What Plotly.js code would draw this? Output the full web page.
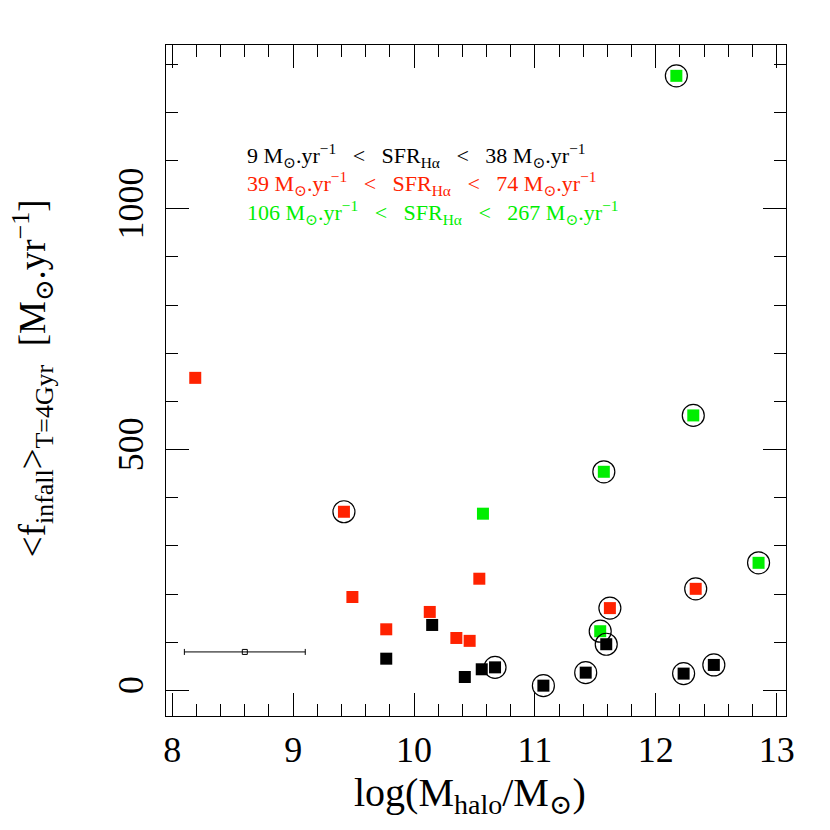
<!DOCTYPE html>
<html>
<head>
<meta charset="utf-8">
<script src="https://cdn.plot.ly/plotly-3.0.1.min.js"></script>
<style>
  body { margin: 0; background: #fff; }
  #chart { width: 830px; height: 830px; }
</style>
</head>
<body>
<div id="chart"></div>
<script>
// halo mass (log) vs mean infall rate, three SFR bins
const blackX = [9.77, 10.15, 10.42, 10.56, 10.67, 11.07, 11.42, 11.59, 12.23, 12.48];
const blackY = [66, 136, 28, 44, 48, 10, 37, 96, 35, 53];
const blackRing = [0, 0, 0, 0, 1, 1, 1, 1, 1, 1];

const redX = [8.19, 9.42, 9.49, 9.77, 10.13, 10.35, 10.46, 10.54, 11.62, 12.33];
const redY = [649, 371, 194, 127, 163, 109, 103, 232, 171, 211];
const redRing = [0, 1, 0, 0, 0, 0, 0, 0, 1, 1];

const greenX = [10.57, 11.54, 11.57, 12.17, 12.31, 12.85];
const greenY = [367, 123, 454, 1276, 571, 265];
const greenRing = [0, 1, 1, 1, 1, 1];

// typical error bar
const errX = [8.6];
const errY = [80];
const errHalf = [0.5];

const xTicks = [8, 9, 10, 11, 12, 13];
const yTicks = [0, 500, 1000];

const RED = '#ff2200';
const GREEN = '#00ee00';
const FONT = 'Liberation Serif, DejaVu Serif, serif';
const SP = '\u00a0';

function squares(x, y, color, name) {
    return {
        x: x, y: y, type: 'scatter', mode: 'markers', name: name,
        marker: { symbol: 'square', size: 12, color: color, line: { width: 0 } }
    };
}

function sfrLabel(lo, hi) {
    const gap = SP + SP + SP;
    return lo + SP + 'M<sub>⊙</sub>.yr<sup>−1</sup>' + gap + '&lt;' + gap + 'SFR<sub>Hα</sub>' +
        gap + '&lt;' + gap + hi + SP + 'M<sub>⊙</sub>.yr<sup>−1</sup>';
}

// gather ringed points from all three sets
const ringX = [], ringY = [];
[[blackX, blackY, blackRing], [redX, redY, redRing], [greenX, greenY, greenRing]].forEach(s => {
    s[2].forEach((r, i) => { if (r) { ringX.push(s[0][i]); ringY.push(s[1][i]); } });
});

const traces = [
    squares(blackX, blackY, 'black', 'low'),
    squares(redX, redY, RED, 'mid'),
    squares(greenX, greenY, GREEN, 'high'),
    {
        x: ringX, y: ringY, type: 'scatter', mode: 'markers', name: 'ring',
        marker: { symbol: 'circle-open', size: 22, color: 'black', line: { width: 1.2, color: 'black' } }
    },
    {
        x: errX, y: errY, type: 'scatter', mode: 'markers', name: 'err',
        marker: { symbol: 'square-open', size: 5, color: 'black', line: { width: 1 } },
        error_x: { type: 'data', array: errHalf, color: 'black', thickness: 1, width: 3 }
    }
];

const axisBase = {
    showgrid: false, zeroline: false, showline: true, linecolor: 'black', linewidth: 1,
    mirror: 'allticks', ticks: 'inside', tickcolor: 'black', tickwidth: 1, ticklen: 23,
    tickfont: { family: FONT, size: 36, color: 'black' }
};

const layout = {
    width: 830, height: 830,
    margin: { l: 166, r: 44, t: 45, b: 114 },
    paper_bgcolor: 'white', plot_bgcolor: 'white',
    showlegend: false,
    font: { family: FONT, color: 'black' },
    xaxis: Object.assign({}, axisBase, {
        range: [7.948, 13.077], tickvals: xTicks, ticktext: xTicks.map(String),
        ticklabelstandoff: 2,
        minor: { dtick: 0.2, tick0: 8, ticks: 'inside', ticklen: 12, tickwidth: 1, tickcolor: 'black' }
    }),
    yaxis: Object.assign({}, axisBase, {
        range: [-53, 1340], tickvals: yTicks, ticktext: yTicks.map(String),
        tickangle: -90, ticklabelstandoff: 8,
        minor: { dtick: 100, tick0: 0, ticks: 'inside', ticklen: 12, tickwidth: 1, tickcolor: 'black' }
    }),
    annotations: [
        {
            xref: 'paper', yref: 'paper', x: 0.49, y: -0.117, xanchor: 'center', yanchor: 'middle',
            showarrow: false, font: { family: FONT, size: 40, color: 'black' },
            text: 'log(M<sub>halo</sub>/M<sub>⊙</sub>)'
        },
        {
            xref: 'paper', yref: 'paper', x: -0.215, y: 0.503, xanchor: 'center', yanchor: 'middle',
            showarrow: false, textangle: -90, font: { family: FONT, size: 37, color: 'black' },
            text: '&lt;f<sub>infall</sub>&gt;<sub>T=4Gyr</sub>' + SP + SP + '[M<sub>⊙</sub>.yr<sup>−1</sup>]'
        },
        {
            xref: 'paper', yref: 'paper', x: 0.127, y: 0.836, xanchor: 'left', yanchor: 'middle',
            showarrow: false, font: { family: FONT, size: 22, color: 'black' },
            text: sfrLabel('9', '38')
        },
        {
            xref: 'paper', yref: 'paper', x: 0.127, y: 0.794, xanchor: 'left', yanchor: 'middle',
            showarrow: false, font: { family: FONT, size: 22, color: RED },
            text: sfrLabel('39', '74')
        },
        {
            xref: 'paper', yref: 'paper', x: 0.127, y: 0.751, xanchor: 'left', yanchor: 'middle',
            showarrow: false, font: { family: FONT, size: 22, color: GREEN },
            text: sfrLabel('106', '267')
        }
    ]
};

Plotly.newPlot('chart', traces, layout, { displayModeBar: false, staticPlot: true });
</script>
</body>
</html>
